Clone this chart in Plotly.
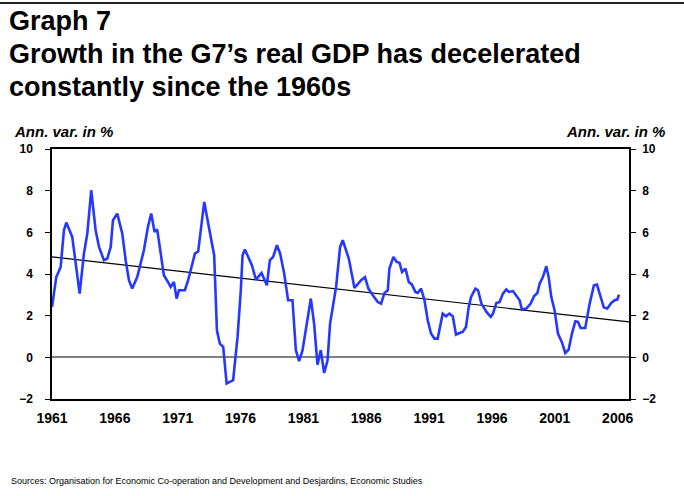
import plotly.graph_objects as go

# G7 real GDP, annual % change (quarterly observations, decimal years)
years = [
    1961.00, 1961.34, 1961.69, 1961.95, 1962.14, 1962.61, 1963.20, 1963.54, 1963.81, 1964.12,
    1964.47, 1964.74, 1965.13, 1965.40, 1965.67, 1965.85, 1966.19, 1966.59, 1966.86, 1967.12,
    1967.38, 1967.78, 1968.31, 1968.63, 1968.89, 1969.16, 1969.37, 1969.64, 1969.90, 1970.30,
    1970.44, 1970.70, 1970.91, 1971.10, 1971.57, 1971.83, 1972.21, 1972.37, 1972.63, 1973.11,
    1973.50, 1973.90, 1974.12, 1974.35, 1974.62, 1974.89, 1975.41, 1975.76, 1976.02, 1976.16,
    1976.34, 1976.68, 1976.90, 1977.22, 1977.67, 1978.09, 1978.33, 1978.59, 1978.89, 1979.15,
    1979.47, 1979.78, 1980.13, 1980.40, 1980.66, 1980.93, 1981.59, 1981.85, 1982.12, 1982.38,
    1982.65, 1982.92, 1983.12, 1983.60, 1983.92, 1984.13, 1984.61, 1985.06, 1985.59, 1985.90,
    1986.17, 1986.52, 1986.91, 1987.18, 1987.45, 1987.71, 1987.84, 1988.16, 1988.42, 1988.64,
    1988.85, 1989.12, 1989.38, 1989.62, 1989.91, 1990.09, 1990.36, 1990.63, 1990.89, 1991.15,
    1991.42, 1991.68, 1992.08, 1992.34, 1992.61, 1992.88, 1993.14, 1993.41, 1993.67, 1993.93,
    1994.15, 1994.33, 1994.68, 1994.89, 1995.16, 1995.56, 1995.90, 1996.08, 1996.35, 1996.61,
    1996.87, 1997.14, 1997.35, 1997.67, 1997.94, 1998.20, 1998.38, 1998.73, 1999.08, 1999.34,
    1999.61, 1999.79, 2000.05, 2000.32, 2000.51, 2000.72, 2000.98, 2001.25, 2001.56, 2001.83,
    2002.10, 2002.36, 2002.63, 2002.84, 2003.05, 2003.42, 2003.77, 2004.11, 2004.35, 2004.62,
    2004.90, 2005.17, 2005.49, 2005.75, 2005.97, 2006.10,
]
gdp_growth = [
    2.41, 3.85, 4.34, 6.10, 6.47, 5.78, 3.06, 4.98, 5.94, 8.02,
    6.10, 5.30, 4.66, 4.74, 5.30, 6.58, 6.90, 5.94, 4.66, 3.70,
    3.30, 3.85, 5.14, 6.26, 6.90, 6.02, 6.14, 4.98, 3.94, 3.54,
    3.38, 3.62, 2.82, 3.22, 3.22, 3.70, 4.66, 4.98, 5.09, 7.46,
    6.18, 4.90, 1.30, 0.66, 0.50, -1.26, -1.10, 0.98, 3.22, 4.90,
    5.18, 4.66, 4.42, 3.73, 4.05, 3.46, 4.66, 4.82, 5.38, 4.98,
    4.02, 2.74, 2.74, 0.34, -0.18, 0.34, 2.82, 1.62, -0.35, 0.34,
    -0.75, -0.14, 1.62, 3.38, 5.30, 5.62, 4.74, 3.33, 3.70, 3.85,
    3.30, 2.98, 2.66, 2.58, 3.09, 3.22, 4.26, 4.82, 4.58, 4.54,
    4.10, 4.26, 3.62, 3.50, 3.14, 3.09, 3.30, 2.74, 1.78, 1.14,
    0.90, 0.90, 2.10, 1.97, 2.10, 1.97, 1.09, 1.17, 1.22, 1.46,
    2.41, 2.89, 3.30, 3.22, 2.58, 2.18, 1.94, 2.10, 2.61, 2.66,
    3.06, 3.26, 3.14, 3.18, 2.98, 2.74, 2.29, 2.34, 2.58, 2.93,
    3.09, 3.54, 3.85, 4.37, 3.85, 2.89, 2.26, 1.14, 0.73, 0.21,
    0.37, 1.14, 1.73, 1.70, 1.41, 1.41, 2.58, 3.46, 3.49, 2.89,
    2.39, 2.34, 2.61, 2.74, 2.77, 3.01,
]

# Long-run trend endpoints
trend_years = [1961.0, 2006.9]
trend_values = [4.82, 1.70]

x_tick_years = [1961, 1966, 1971, 1976, 1981, 1986, 1991, 1996, 2001, 2006]
y_ticks = [-2, 0, 2, 4, 6, 8, 10]

FONT = "Liberation Sans, Arial, sans-serif"
W, H = 684, 496
L, R, T, B = 52, 55, 149, 97
PW, PH = W - L - R, H - T - B


def px(xp):
    return (xp - L) / PW


def py(yp):
    return (H - B - yp) / PH


fig = go.Figure()

fig.add_trace(go.Scatter(
    x=trend_years, y=trend_values, mode="lines",
    line=dict(color="#000000", width=1.2), hoverinfo="skip", showlegend=False,
))
fig.add_trace(go.Scatter(
    x=years, y=gdp_growth, mode="lines",
    line=dict(color="#2638FF", width=2.6), showlegend=False,
))
# carries the right-hand axis
fig.add_trace(go.Scatter(
    x=trend_years, y=trend_values, mode="lines", yaxis="y2",
    line=dict(color="rgba(0,0,0,0)", width=0), hoverinfo="skip", showlegend=False,
))

y_tick_font = dict(family=FONT, size=12, color="#000000", weight="bold")
x_tick_font = dict(family=FONT, size=14, color="#000000", weight="bold")

fig.update_layout(
    width=W, height=H,
    margin=dict(l=L, r=R, t=T, b=B),
    paper_bgcolor="white", plot_bgcolor="white",
    xaxis=dict(
        range=[1961.0, 2006.9], showgrid=False, zeroline=False,
        tickvals=x_tick_years, ticktext=[str(v) for v in x_tick_years],
        tickfont=x_tick_font, ticks="outside", ticklen=5, tickcolor="white",
        showline=True, linecolor="#000000", linewidth=1.5, mirror=True,
    ),
    yaxis=dict(
        range=[-2, 10], tickvals=y_ticks, showgrid=False,
        zeroline=True, zerolinecolor="#808080", zerolinewidth=2,
        tickfont=y_tick_font, ticks="outside", ticklen=5, tickcolor="#000000",
        ticklabelstandoff=10,
        showline=True, linecolor="#000000", linewidth=1.5,
    ),
    yaxis2=dict(
        range=[-2, 10], tickvals=y_ticks, overlaying="y", side="right",
        showgrid=False, zeroline=False,
        tickfont=y_tick_font, ticks="outside", ticklen=5, tickcolor="#000000",
        ticklabelstandoff=4,
        showline=True, linecolor="#000000", linewidth=1.5,
    ),
)

fig.add_shape(type="line", xref="paper", yref="paper",
              x0=px(0), x1=px(W), y0=py(3), y1=py(3),
              line=dict(color="#222222", width=2))

title_lines = [
    ("Graph 7", 21),
    ("Growth in the G7\u2019s real GDP has decelerated", 54),
    ("constantly since the 1960s", 87),
]
for text, yp in title_lines:
    fig.add_annotation(text=text, xref="paper", yref="paper",
                       x=px(7), y=py(yp), xanchor="left", yanchor="middle",
                       showarrow=False,
                       font=dict(family=FONT, size=27, color="#000000", weight="bold"))

unit_font = dict(family=FONT, size=15, color="#000000", weight="bold", style="italic")
fig.add_annotation(text="Ann. var. in %", xref="paper", yref="paper",
                   x=px(12), y=py(131), xanchor="left", yanchor="middle",
                   showarrow=False, font=unit_font)
fig.add_annotation(text="Ann. var. in %", xref="paper", yref="paper",
                   x=px(667), y=py(131), xanchor="right", yanchor="middle",
                   showarrow=False, font=unit_font)

fig.add_annotation(
    text="Sources: Organisation for Economic Co-operation and Development and Desjardins, Economic Studies",
    xref="paper", yref="paper", x=px(9), y=py(481), xanchor="left", yanchor="middle",
    showarrow=False, font=dict(family=FONT, size=9, color="#000000"))

fig.write_html("out.html")
